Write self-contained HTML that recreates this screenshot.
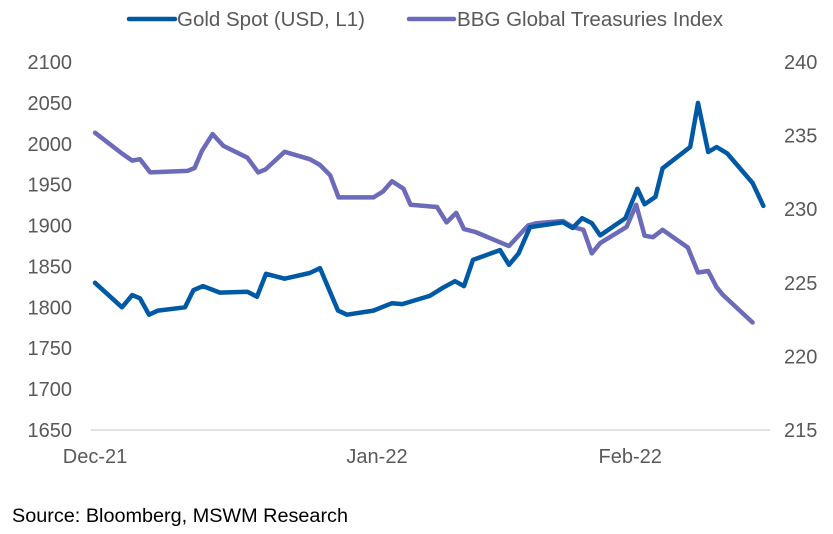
<!DOCTYPE html>
<html><head><meta charset="utf-8"><style>
html,body{margin:0;padding:0;background:#fff;}
svg{display:block;font-family:"Liberation Sans",Arial,sans-serif;}
</style></head><body>
<svg id="chart" width="833" height="534" viewBox="0 0 833 534">
  <g>
    <g>
      <line x1="129" y1="19" x2="175" y2="19" stroke="#0059A4" stroke-width="4.5" stroke-linecap="round"/>
      <text x="177" y="26" font-size="20" fill="#595959" textLength="188" lengthAdjust="spacingAndGlyphs">Gold Spot (USD, L1)</text>
    </g>
    <g>
      <line x1="409" y1="19" x2="454" y2="19" stroke="#6C6BB9" stroke-width="4.5" stroke-linecap="round"/>
      <text x="457" y="26" font-size="20" fill="#595959" textLength="266" lengthAdjust="spacingAndGlyphs">BBG Global Treasuries Index</text>
    </g>
  </g>
  <line x1="91" y1="430" x2="770" y2="430" stroke="#d9d9d9" stroke-width="1.5"/>
  <g id="left-ticks"></g>
  <g id="right-ticks"></g>
  <g id="x-ticks"></g>
  <g id="series"></g>
  <text x="12" y="522" font-size="19" fill="#000" textLength="336" lengthAdjust="spacingAndGlyphs">Source: Bloomberg, MSWM Research</text>
</svg>
<script>
const leftTicks = [1650,1700,1750,1800,1850,1900,1950,2000,2050,2100];
const rightTicks = [215,220,225,230,235,240];
const xLabels = ["Dec-21","Jan-22","Feb-22"];
const xLabelIdx = [0,23.5,44.6];
const goldIdx = [0,2.25,3.1,3.75,4.5,5.25,7.5,8.2,9,10.4,12.7,13.5,14.25,15.8,17.9,18.75,20.25,21,23.2,24.75,25.6,27.9,29,30,30.75,31.5,33.75,34.5,35.3,36.25,39,39.8,40.6,41.4,42.1,44.2,45.2,45.8,46.7,47.3,49.6,50.25,51.1,51.8,52.7,54.8,55.7];
const goldVals = [1830,1800,1815,1811,1791,1796,1800,1821,1826,1818,1819,1813,1841,1835,1842,1848,1796,1791,1796,1805,1804,1814,1824,1832,1826,1858,1870,1852,1866,1898,1904,1897,1909,1903,1888,1909,1945,1926,1935,1970,1996,2050,1990,1996,1988,1952,1924];
const tsyIdx = [0,2.3,3.1,3.75,4.6,7.7,8.3,8.9,9.8,10.7,12.7,13.6,14.2,15.8,17.9,18.75,19.6,20.3,23.2,24,24.75,25.7,26.3,28.5,29.3,30.1,30.75,31.7,33.9,34.5,36.1,36.8,39,39.8,40.7,41.4,42.1,44.3,45.1,45.8,46.5,47.3,49.4,50.25,51.1,51.8,52.3,54.8];
const tsyVals = [235.2,233.75,233.3,233.4,232.5,232.6,232.8,233.95,235.1,234.3,233.5,232.5,232.7,233.9,233.4,233,232.3,230.8,230.8,231.2,231.9,231.4,230.3,230.15,229.1,229.75,228.65,228.45,227.7,227.5,228.9,229.05,229.2,228.8,228.6,227,227.7,228.8,230.3,228.2,228.1,228.6,227.4,225.7,225.8,224.7,224.2,222.3];

const NS = "http://www.w3.org/2000/svg";
const xScale = i => 95 + i * 12;
const yLeft = v => 430 - (v - 1650) * (368 / 450);
const yRight = v => 430 - (v - 215) * (368 / 25);

const lt = document.getElementById('left-ticks');
leftTicks.forEach(v => {
  const t = document.createElementNS(NS, 'text');
  
  
  t.setAttribute('x', 72); t.setAttribute('y', yLeft(v) + 7);
  t.setAttribute('text-anchor', 'end'); t.setAttribute('font-size', '20'); t.setAttribute('fill', '#595959');
  t.textContent = v; lt.appendChild(t);
});
const rt = document.getElementById('right-ticks');
rightTicks.forEach(v => {
  const t = document.createElementNS(NS, 'text');
  
  
  t.setAttribute('x', 784); t.setAttribute('y', yRight(v) + 7);
  t.setAttribute('font-size', '20'); t.setAttribute('fill', '#595959');
  t.textContent = v; rt.appendChild(t);
});
const xt = document.getElementById('x-ticks');
xLabels.forEach((l, k) => {
  const t = document.createElementNS(NS, 'text');
  
  
  t.setAttribute('x', xScale(xLabelIdx[k])); t.setAttribute('y', 463);
  t.setAttribute('text-anchor', 'middle'); t.setAttribute('font-size', '20'); t.setAttribute('fill', '#595959');
  t.textContent = l; xt.appendChild(t);
});
const sg = document.getElementById('series');
function drawLine(idx, vals, ys, color, name) {
  const p = document.createElementNS(NS, 'polyline');
  
  
  p.setAttribute('points', idx.map((i, k) => xScale(i).toFixed(1) + ',' + ys(vals[k]).toFixed(1)).join(' '));
  p.setAttribute('fill', 'none'); p.setAttribute('stroke', color);
  p.setAttribute('stroke-width', '4.5'); p.setAttribute('stroke-linejoin', 'round'); p.setAttribute('stroke-linecap', 'round');
  sg.appendChild(p);
}
drawLine(tsyIdx, tsyVals, yRight, '#6C6BB9', 'treasuries-line');
drawLine(goldIdx, goldVals, yLeft, '#0059A4', 'gold-line');
</script>
</body></html>
